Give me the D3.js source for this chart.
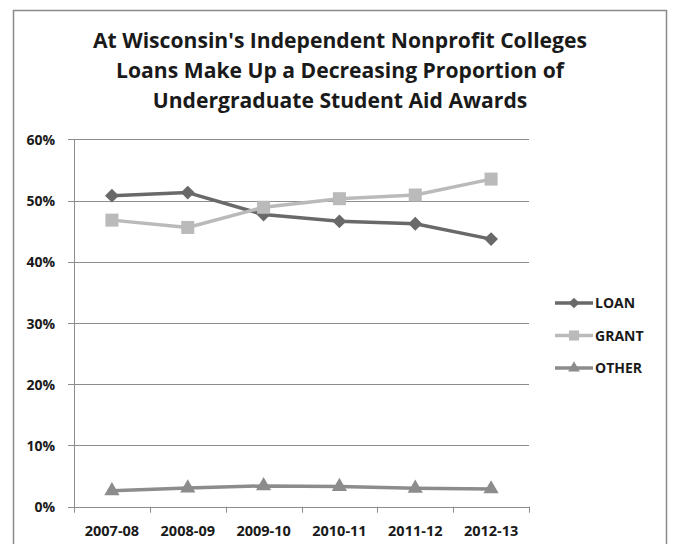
<!DOCTYPE html>
<html>
<head>
<meta charset="utf-8">
<script src="https://cdn.jsdelivr.net/npm/d3@7"></script>
<style>
  body { margin: 0; background: #fff; }
  text { font-family: "Open Sans", "DejaVu Sans", sans-serif; font-weight: bold; fill: #1a1a1a; }
</style>
</head>
<body>
<svg id="svg" width="673" height="544"></svg>
<script>
// data
const years = ['2007-08', '2008-09', '2009-10', '2010-11', '2011-12', '2012-13']
const loan = [50.8, 51.3, 47.7, 46.6, 46.2, 43.7]
const grant = [46.8, 45.6, 48.9, 50.3, 50.9, 53.5]
const other = [2.6, 3.05, 3.4, 3.3, 3.0, 2.9]
const yTicks = [0, 10, 20, 30, 40, 50, 60]
const titleLines = [
    "At Wisconsin's Independent Nonprofit Colleges",
    "Loans Make Up a Decreasing Proportion of",
    "Undergraduate Student Aid Awards"
]

const series = [
    { name: 'LOAN', values: loan, color: '#696969', shape: 'diamond' },
    { name: 'GRANT', values: grant, color: '#bababa', shape: 'square' },
    { name: 'OTHER', values: other, color: '#8c8c8c', shape: 'triangle' }
]

const svg = d3.select('#svg')

// chart frame
svg.append('rect')
    .attr('x', 13.5).attr('y', 10.5)
    .attr('width', 653).attr('height', 560)
    .attr('fill', '#fff')
    .attr('stroke', '#8a8a8a')
    .attr('stroke-width', 1.5)

// title, squeezed a bit since there's no Calibri here
const title = svg.append('g')
titleLines.forEach((t, i) => {
    title.append('text')
        .attr('x', 340).attr('y', 48 + i * 30)
        .attr('text-anchor', 'middle')
        .style('font-size', '21px')
        .text(t)
})
const natural = title.select('text').node().getComputedTextLength()
const squeeze = 494 / natural
title.selectAll('text').each(function() {
    const w = this.getComputedTextLength()
    d3.select(this).attr('textLength', w * squeeze).attr('lengthAdjust', 'spacingAndGlyphs')
})

const plotLeft = 74, plotRight = 529, plotTop = 139.3, plotBottom = 506.7

const x = d3.scaleBand()
    .domain(years)
    .range([plotLeft, plotRight])

const y = d3.scaleLinear()
    .domain([0, 60])
    .range([plotBottom, plotTop])

// gridlines (with the little outside tick on the left)
svg.append('g').selectAll('line').data(yTicks)
    .enter().append('line')
        .attr('x1', plotLeft - 6).attr('x2', plotRight)
        .attr('y1', d => Math.round(y(d)) + 0.5)
        .attr('y2', d => Math.round(y(d)) + 0.5)
        .attr('stroke', '#8c8c8c')
        .attr('stroke-width', 1)

// y axis labels
const yAxis = d3.axisLeft(y)
    .tickValues(yTicks)
    .tickFormat(d => d + '%')
    .tickSize(0)
    .tickPadding(19)
svg.append('g')
    .attr('transform', `translate(${plotLeft},0)`)
    .call(yAxis)
    .call(g => g.select('.domain').remove())
    .selectAll('text')
        .style('font-size', '14px')
        .attr('dy', '0.36em')

// y axis line
svg.append('line')
    .attr('x1', plotLeft + 0.5).attr('x2', plotLeft + 0.5)
    .attr('y1', plotTop).attr('y2', plotBottom + 5)
    .attr('stroke', '#8c8c8c')

// x axis: ticks sit between categories
const bounds = d3.range(years.length + 1).map(i => plotLeft + i * x.step())
svg.append('g').selectAll('line').data(bounds)
    .enter().append('line')
        .attr('x1', d => Math.round(d) + 0.5).attr('x2', d => Math.round(d) + 0.5)
        .attr('y1', plotBottom).attr('y2', plotBottom + 6)
        .attr('stroke', '#8c8c8c')

const xAxis = d3.axisBottom(x).tickSize(0).tickPadding(19)
svg.append('g')
    .attr('transform', `translate(0,${plotBottom})`)
    .call(xAxis)
    .call(g => g.select('.domain').remove())
    .selectAll('text')
        .style('font-size', '14.5px')

const symbolFor = (shape, k) => {
    if (shape === 'diamond') return d3.symbol(d3.symbolSquare, 96 * k)()
    if (shape === 'square') return d3.symbol(d3.symbolSquare, 170 * k)()
    return d3.symbol(d3.symbolTriangle, 100 * k)()
}

const line = d3.line()
    .x((d, i) => x(years[i]) + x.bandwidth() / 2)
    .y(d => y(d))

series.forEach(s => {
    const g = svg.append('g')
    g.append('path')
        .attr('d', line(s.values))
        .attr('fill', 'none')
        .attr('stroke', s.color)
        .attr('stroke-width', 3.5)
        .attr('stroke-linejoin', 'round')
    g.selectAll('path.mark').data(s.values)
        .enter().append('path')
            .attr('class', 'mark')
            .attr('d', symbolFor(s.shape, 1))
            .attr('transform', (d, i) => `translate(${x(years[i]) + x.bandwidth() / 2},${y(d)})` + (s.shape === 'diamond' ? ' rotate(45)' : ''))
            .attr('fill', s.color)
})

// legend
const legend = svg.append('g').attr('transform', 'translate(555,303)')
series.forEach((s, i) => {
    const g = legend.append('g').attr('transform', `translate(0,${i * 32.5})`)
    g.append('line')
        .attr('x1', 0).attr('x2', 38)
        .attr('stroke', s.color).attr('stroke-width', 3.5)
    g.append('path')
        .attr('d', symbolFor(s.shape, 0.6))
        .attr('transform', 'translate(19,0)' + (s.shape === 'diamond' ? ' rotate(45)' : ''))
        .attr('fill', s.color)
    g.append('text')
        .attr('x', 40).attr('dy', '0.36em')
        .style('font-size', '14px')
        .text(s.name)
})
</script>
</body>
</html>
